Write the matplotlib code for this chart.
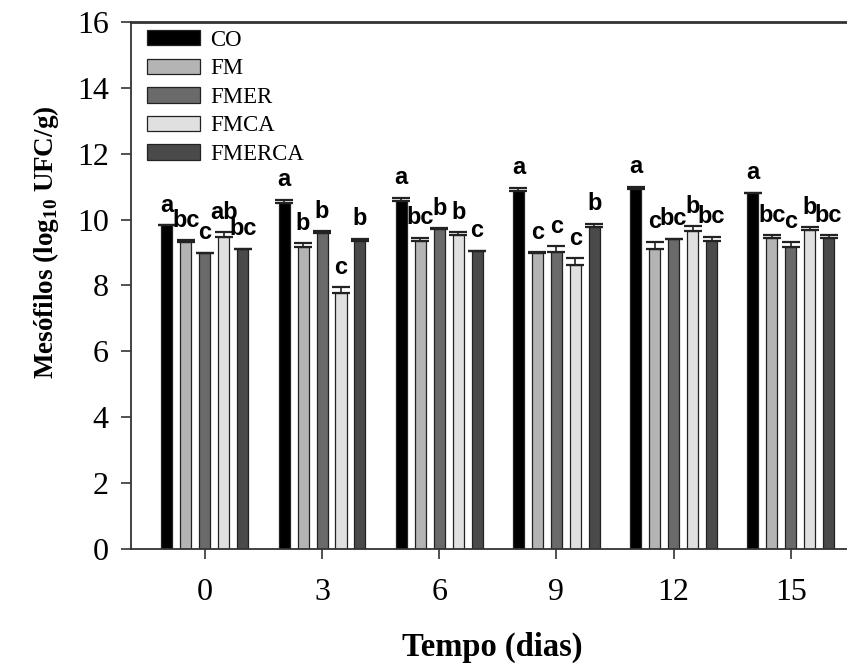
import matplotlib
matplotlib.use("Agg")
import matplotlib.pyplot as plt
import numpy as np

# sampling days
days = ['0', '3', '6', '9', '12', '15']
treatments = ['CO', 'FM', 'FMER', 'FMCA', 'FMERCA']
colors = ['#000000', '#b4b4b4', '#6a6a6a', '#e0e0e0', '#4a4a4a']

# mean counts (log10 UFC/g) per treatment
co = [9.84, 10.49, 10.57, 10.87, 10.92, 10.82]
fm = [9.33, 9.18, 9.36, 9.00, 9.10, 9.45]
fmer = [9.00, 9.58, 9.72, 9.03, 9.40, 9.18]
fmca = [9.46, 7.76, 9.53, 8.62, 9.66, 9.68]
fmerca = [9.12, 9.36, 9.06, 9.77, 9.36, 9.43]

# standard errors (upper bars only)
co_err = [0.0, 0.12, 0.10, 0.10, 0.08, 0.0]
fm_err = [0.05, 0.10, 0.09, 0.02, 0.23, 0.09]
fmer_err = [0.0, 0.07, 0.02, 0.17, 0.02, 0.15]
fmca_err = [0.15, 0.20, 0.09, 0.22, 0.14, 0.09]
fmerca_err = [0.0, 0.06, 0.0, 0.11, 0.12, 0.10]

# significance letters
co_let = ['a', 'a', 'a', 'a', 'a', 'a']
fm_let = ['bc', 'b', 'bc', 'c', 'c', 'bc']
fmer_let = ['c', 'b', 'b', 'c', 'bc', 'c']
fmca_let = ['ab', 'c', 'b', 'c', 'b', 'b']
fmerca_let = ['bc', 'b', 'c', 'b', 'bc', 'bc']

means = [co, fm, fmer, fmca, fmerca]
errs = [co_err, fm_err, fmer_err, fmca_err, fmerca_err]
letters = [co_let, fm_let, fmer_let, fmca_let, fmerca_let]

plt.rcParams['font.family'] = ['Liberation Serif', 'DejaVu Serif']
plt.rcParams['mathtext.fontset'] = 'custom'
plt.rcParams['mathtext.rm'] = 'Liberation Serif'
plt.rcParams['mathtext.bf'] = 'Liberation Serif:bold'

fig = plt.figure(figsize=(8.47, 6.66), dpi=100)
ax = fig.add_axes([0.1547, 0.1757, 0.866, 0.7913])

x = np.arange(len(days))
step = 0.162
width = 0.094

for k in range(len(treatments)):
    pos = x + (k - 2) * step
    ax.bar(pos, means[k], width, color=colors[k], edgecolor='#222222',
           linewidth=0.9, label=treatments[k], zorder=2)
    ax.errorbar(pos, means[k], yerr=[np.zeros(len(days)), errs[k]], fmt='none',
                ecolor='#222222', elinewidth=1.2, capsize=6.5, capthick=1.6, zorder=3)
    for i in range(len(days)):
        ax.text(pos[i], means[k][i] + errs[k][i] + 0.25, letters[k][i],
                ha='center', va='bottom', fontsize=17, fontweight='bold',
                family='Liberation Sans', zorder=4)

ax.set_ylim(0, 16)
ax.set_yticks(np.arange(0, 17, 2))
ax.set_xlim(-0.63, 5.63)
ax.set_xticks(x)
ax.set_xticklabels(days)

for s in ['left', 'bottom', 'top']:
    ax.spines[s].set_color('#333333')
    ax.spines[s].set_linewidth(1.3)
ax.spines['top'].set_linewidth(2)
ax.spines['right'].set_visible(False)

ax.tick_params(axis='both', direction='out', length=7, width=1.2,
               color='#333333', labelsize=23)
ax.tick_params(axis='x', pad=14)
ax.tick_params(axis='y', pad=9)

ax.set_ylabel(r'Mesófilos (log$_{\mathbf{10}}$ UFC/g)', fontsize=19.5,
              fontweight='bold')
ax.yaxis.set_label_coords(-0.095, 0.5825)
ax.set_xlabel('Tempo (dias)', fontsize=23.5, fontweight='bold')
ax.xaxis.set_label_coords(0.492, -0.157)

ax.legend(loc='upper left', bbox_to_anchor=(0.022, 0.985), frameon=False,
          fontsize=16.4, handlelength=2.3, handleheight=0.65, handletextpad=0.45,
          labelspacing=0.33, borderpad=0, borderaxespad=0)

plt.savefig('out.png', dpi=100)
plt.close()
